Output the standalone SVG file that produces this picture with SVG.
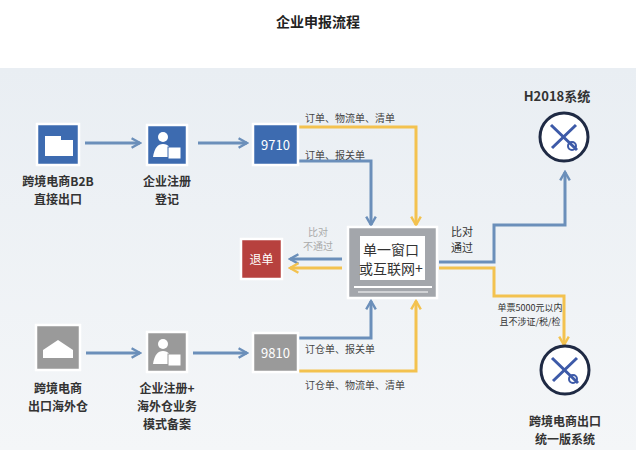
<svg xmlns="http://www.w3.org/2000/svg" width="636" height="450" viewBox="0 0 636 450">
<defs>
<style>
text{font-family:"Noto Sans CJK SC","Liberation Sans",sans-serif;}
.lb{font-size:12px;fill:#333;text-anchor:middle;font-weight:bold}
.sm{font-size:10px;fill:#444}
.b{stroke:#6b8fba;stroke-width:3;fill:none}
.y{stroke:#f3c24f;stroke-width:3;fill:none}
.box{stroke:#fff;stroke-width:2.5}
</style>
<marker id="ab" viewBox="0 0 10 10" refX="8" refY="5" markerWidth="4" markerHeight="4" orient="auto"><path d="M1,1L8,5L1,9" fill="none" stroke="#6b8fba" stroke-width="2"/></marker>
<marker id="ay" viewBox="0 0 10 10" refX="8" refY="5" markerWidth="4" markerHeight="4" orient="auto"><path d="M1,1L8,5L1,9" fill="none" stroke="#f3c24f" stroke-width="2"/></marker>
<linearGradient id="bg" x1="0" y1="0" x2="0" y2="1"><stop offset="0" stop-color="#e9eef3"/><stop offset="1" stop-color="#f4f6f8"/></linearGradient>
</defs>
<rect width="636" height="450" fill="#fff"/>
<rect y="68" width="636" height="382" fill="url(#bg)"/>
<text x="318" y="27" text-anchor="middle" font-size="14" font-weight="bold" fill="#222">企业申报流程</text>

<g id="connectors">
<path class="b" d="M85,143H140" marker-end="url(#ab)"/>
<path class="b" d="M198,143H247" marker-end="url(#ab)"/>
<path class="b" d="M86,353H140" marker-end="url(#ab)"/>
<path class="b" d="M193,353H247" marker-end="url(#ab)"/>
<path class="y" d="M299,127H416V225" marker-end="url(#ay)"/>
<path class="b" d="M299,161H371V225" marker-end="url(#ab)"/>
<path class="b" d="M299,338H371V301" marker-end="url(#ab)"/>
<path class="y" d="M299,371H416V301" marker-end="url(#ay)"/>
<path class="b" d="M342,259H290" marker-end="url(#ab)"/>
<path class="y" d="M342,268H290" marker-end="url(#ay)"/>
<path class="b" d="M439,262H494V225H565V172" marker-end="url(#ab)"/>
<path class="y" d="M439,268H494V296H564V345" marker-end="url(#ay)"/>
<text class="sm" x="305" y="122">订单、物流单、清单</text>
<text class="sm" x="305" y="159">订单、报关单</text>
<text class="sm" x="305" y="353">订仓单、报关单</text>
<text class="sm" x="305" y="389">订仓单、物流单、清单</text>
<text x="318" y="236" font-size="10" fill="#aaa" text-anchor="middle">比对</text>
<text x="318" y="250" font-size="10" fill="#aaa" text-anchor="middle">不通过</text>
<text x="462" y="236" font-size="11" fill="#333" text-anchor="middle">比对</text>
<text x="462" y="252" font-size="11" fill="#333" text-anchor="middle">通过</text>
<text x="530" y="311" font-size="9" fill="#333" text-anchor="middle">单票5000元以内</text>
<text x="530" y="325" font-size="9" fill="#333" text-anchor="middle">且不涉证/税/检</text>
</g>

<g id="b2b">
<rect class="box" x="37" y="124" width="42" height="41" fill="#3d6bb0"/>
<rect x="45" y="136" width="16" height="20" fill="#fff"/><rect x="61" y="140" width="12" height="16" fill="#fff"/>
<text class="lb" x="58" y="186">跨境电商B2B</text><text class="lb" x="58" y="204">直接出口</text>
</g>
<g id="reg1">
<rect class="box" x="147" y="125" width="40" height="40" fill="#3d6bb0"/>
<circle cx="163" cy="137" r="5" fill="#fff"/><path d="M153,157Q155,144 163,144Q171,144 173,157Z" fill="#fff"/><rect x="168" y="147" width="13" height="12" fill="#fff" stroke="#3d6bb0"/>
<text class="lb" x="167" y="186">企业注册</text><text class="lb" x="167" y="204">登记</text>
</g>
<g id="n9710">
<rect class="box" x="253" y="124" width="45" height="41" fill="#3d6bb0"/>
<text x="275.5" y="150" text-anchor="middle" font-size="13" fill="#fff">9710</text>
</g>
<g id="tuidan">
<rect class="box" x="241" y="239" width="41" height="40" fill="#b7413e"/>
<text x="261.5" y="264" text-anchor="middle" font-size="12" fill="#fff">退单</text>
</g>
<g id="center">
<rect class="box" x="348" y="227" width="89" height="71" fill="#a3a6ab"/>
<rect x="360" y="236" width="65" height="44" fill="#fff"/>
<path d="M354,287H432" stroke="#fff" stroke-width="2"/><path d="M358,292H428" stroke="#fff" stroke-width="1"/>
<text x="391" y="255" text-anchor="middle" font-size="14" fill="#333">单一窗口</text>
<text x="391" y="274" text-anchor="middle" font-size="14" fill="#333">或互联网+</text>
</g>
<g id="wh">
<rect class="box" x="36" y="325" width="44" height="45" fill="#9a9a9a"/>
<path d="M43,350L58,340L73,350V358H43Z" fill="#fff"/>
<text class="lb" x="58" y="393">跨境电商</text><text class="lb" x="58" y="411">出口海外仓</text>
</g>
<g id="reg2">
<rect class="box" x="147" y="332" width="40" height="40" fill="#9a9a9a"/>
<circle cx="163" cy="344" r="5" fill="#fff"/><path d="M153,364Q155,351 163,351Q171,351 173,364Z" fill="#fff"/><rect x="168" y="354" width="13" height="12" fill="#fff" stroke="#9a9a9a"/>
<text class="lb" x="167" y="393">企业注册+</text><text class="lb" x="167" y="411">海外仓业务</text><text class="lb" x="167" y="429">模式备案</text>
</g>
<g id="n9810">
<rect class="box" x="253" y="333" width="45" height="39" fill="#9a9a9a"/>
<text x="275.5" y="358" text-anchor="middle" font-size="13" fill="#fff">9810</text>
</g>
<g id="h2018">
<text x="557" y="101" text-anchor="middle" font-size="13" font-weight="bold" fill="#333">H2018系统</text>
<circle cx="564" cy="137" r="24" fill="#fff" stroke="#1f2a44" stroke-width="3"/>
<path d="M551,125L577,150M552,148L576,125" stroke="#3d5aa8" stroke-width="3"/><circle cx="572" cy="146" r="4" fill="none" stroke="#3d5aa8" stroke-width="2"/>
</g>
<g id="unified">
<circle cx="565" cy="370" r="24" fill="#fff" stroke="#1f2a44" stroke-width="3"/>
<path d="M552,358L578,383M553,381L577,358" stroke="#3d5aa8" stroke-width="3"/><circle cx="573" cy="379" r="4" fill="none" stroke="#3d5aa8" stroke-width="2"/>
<text class="lb" x="565" y="426" font-size="13">跨境电商出口</text><text class="lb" x="565" y="444" font-size="13">统一版系统</text>
</g>
</svg>
